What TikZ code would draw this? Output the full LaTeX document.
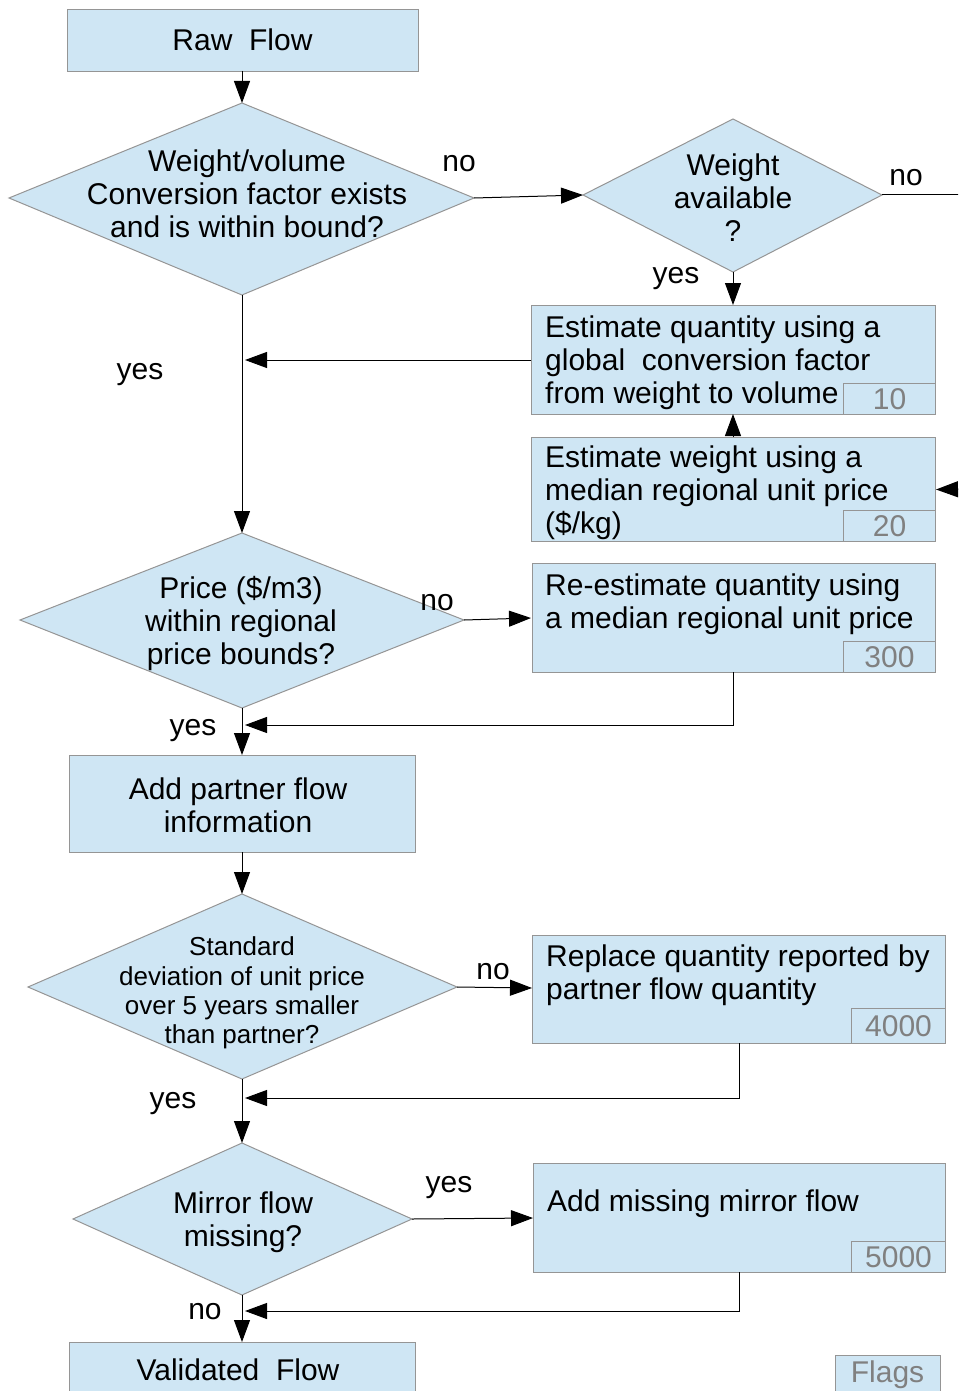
\documentclass[tikz,border=0pt]{standalone}
\usepackage{fontspec}
\setmainfont{Liberation Sans}
\usetikzlibrary{arrows.meta}
\definecolor{boxfill}{HTML}{CFE6F4}
\definecolor{boxline}{HTML}{959595}
\definecolor{flagtext}{HTML}{808080}
\begin{document}
\begin{tikzpicture}[x=1pt,y=-1pt,
 box/.style={draw=boxline, fill=boxfill, line width=1pt, inner sep=0pt, anchor=north west},
 flagbox/.style={draw=boxline, fill=boxfill, line width=1pt, inner sep=0pt, anchor=south east, text=flagtext, font=\fontsize{30}{33}\selectfont},
 dia/.style={draw=boxline, fill=boxfill, line width=1pt},
 txt/.style={inner sep=0pt, font=\fontsize{30}{33}\selectfont, text=black},
 small/.style={inner sep=0pt, font=\fontsize{26}{29.3}\selectfont, text=black},
 conn/.style={line width=1pt, draw=black},
 arr/.style={conn, -{Triangle[length=22pt,width=16pt]}},
]
\useasboundingbox (0,0) rectangle (958,1391);
\clip (0,0) rectangle (958,1391);
\fill[white] (0,0) rectangle (958,1391);

% Raw Flow
\node[box, minimum width=351pt, minimum height=62pt] (raw) at (67,9) {};
\node[txt] (rawt) at (242.5,40) {Raw\ \ Flow};

% Diamond 1
\draw[dia] (242,103) coordinate (d1n) -- (474,198) coordinate (d1e) -- (242,295) coordinate (d1s) -- (9,198) coordinate (d1w) -- cycle;
\node[txt, align=center] (d1t) at (247,194) {Weight/volume\\Conversion factor exists\\and is within bound?};

% Diamond 2
\draw[dia] (733,119) coordinate (d2n) -- (882,195) coordinate (d2e) -- (733,272) coordinate (d2s) -- (583,195) coordinate (d2w) -- cycle;
\node[txt, align=center] (d2t) at (733,198) {Weight\\available\\?};

% Box 10
\node[box, minimum width=404pt, minimum height=109pt] (b10) at (531,305) {};
\node[txt, align=left, anchor=west] (b10t) at (545,363) {Estimate quantity using a\\global\ \ conversion factor\\from weight to volume};
\node[flagbox, minimum width=92pt, minimum height=31pt] (f10) at (b10.south east) {10};

% Box 20
\node[box, minimum width=404pt, minimum height=104pt] (b20) at (531,437) {};
\node[txt, align=left, anchor=west] (b20t) at (545,493) {Estimate weight using a\\median regional unit price\\(\$/kg)};
\node[flagbox, minimum width=92pt, minimum height=31pt] (f20) at (b20.south east) {20};

% Diamond 3
\draw[dia] (242,533) coordinate (d3n) -- (464,620) coordinate (d3e) -- (242,708) coordinate (d3s) -- (20,620) coordinate (d3w) -- cycle;
\node[txt, align=center] (d3t) at (241,624) {Price (\$/m3)\\within regional\\price bounds?};

% Box 300
\node[box, minimum width=403pt, minimum height=109pt] (b300) at (532,563) {};
\node[txt, align=left, anchor=west] (b300t) at (545,604.5) {Re-estimate quantity using\\a median regional unit price};
\node[flagbox, minimum width=92pt, minimum height=31pt] (f300) at (b300.south east) {300};

% Add partner
\node[box, minimum width=346pt, minimum height=97pt] (part) at (69,755) {};
\node[txt, align=center] (partt) at (238,805.5) {Add partner flow\\information};

% Diamond 4
\draw[dia] (242,894) coordinate (d4n) -- (457,987) coordinate (d4e) -- (242,1079) coordinate (d4s) -- (28,987) coordinate (d4w) -- cycle;
\node[small, align=center] (d4t) at (242,993) {Standard\\deviation of unit price\\over 5 years smaller\\than partner?};

% Box 4000
\node[box, minimum width=413pt, minimum height=108pt] (b4000) at (532,935) {};
\node[txt, align=left, anchor=west] (b4000t) at (546,975.5) {Replace quantity reported by\\partner flow quantity};
\node[flagbox, minimum width=94pt, minimum height=35pt] (f4000) at (b4000.south east) {4000};

% Diamond 5
\draw[dia] (242,1143) coordinate (d5n) -- (412,1219) coordinate (d5e) -- (242,1295) coordinate (d5s) -- (73,1219) coordinate (d5w) -- cycle;
\node[txt, align=center] (d5t) at (243,1222) {Mirror flow\\missing?};

% Box 5000
\node[box, minimum width=412pt, minimum height=109pt] (b5000) at (533,1163) {};
\node[txt, anchor=west] (b5000t) at (547,1204) {Add missing mirror flow};
\node[flagbox, minimum width=94pt, minimum height=31pt] (f5000) at (b5000.south east) {5000};

% Validated
\node[box, minimum width=346pt, minimum height=70pt] (val) at (69,1342) {};
\node[txt] (valt) at (238,1370) {Validated\ \ Flow};

% Flags legend
\node[box, minimum width=105pt, minimum height=36pt] (flags) at (835,1355) {};
\node[txt, text=flagtext] (flagst) at (887.5,1375) {Flags};

% Coordinates
\coordinate (rawb) at (242,71);
\coordinate (j1) at (245,360);
\coordinate (offR) at (975,195);
\coordinate (inR) at (980,489);
\coordinate (b10b) at (733,414);
\coordinate (b20n) at (733,437);
\coordinate (b10n) at (733,305);
\coordinate (c300a) at (733,672);
\coordinate (c300b) at (733,725);
\coordinate (j2) at (245,725);
\coordinate (partn) at (242,755);
\coordinate (parts) at (242,852);
\coordinate (c4a) at (739,1043);
\coordinate (c4b) at (739,1098);
\coordinate (j3) at (245,1098);
\coordinate (c5a) at (739,1272);
\coordinate (c5b) at (739,1311);
\coordinate (j4) at (245,1311);
\coordinate (valn) at (242,1342);
\coordinate (b10w) at (531,360);
\coordinate (b300w) at (531,618);
\coordinate (b4000w) at (532,988);
\coordinate (b5000w) at (533,1218);

% Connectors
\draw[arr] (rawb) -- (d1n);
\draw[arr] (d1e) -- (d2w);
\draw[conn] (d2e) -- (offR);
\draw[arr] (d2s) -- (b10n);
\draw[arr] (b10w) -- (j1);
\draw[arr] (d1s) -- (d3n);
\draw[arr] (b20n) -- (b10b);
\draw[arr] (inR) -- (b20.east);
\draw[arr] (d3e) -- (b300w);
\draw[arr] (c300a) -- (c300b) -- (j2);
\draw[arr] (d3s) -- (partn);
\draw[arr] (parts) -- (d4n);
\draw[arr] (d4e) -- (b4000w);
\draw[arr] (c4a) -- (c4b) -- (j3);
\draw[arr] (d4s) -- (d5n);
\draw[arr] (d5e) -- (b5000w);
\draw[arr] (c5a) -- (c5b) -- (j4);
\draw[arr] (d5s) -- (valn);

% Labels
\node[txt] (l1) at (459,164) {no};
\node[txt] (l2) at (906,178) {no};
\node[txt] (l3) at (676,279) {yes};
\node[txt] (l4) at (140,375) {yes};
\node[txt] (l5) at (437,603) {no};
\node[txt] (l6) at (193,731) {yes};
\node[txt] (l7) at (493,972) {no};
\node[txt] (l8) at (173,1104) {yes};
\node[txt] (l9) at (449,1188) {yes};
\node[txt] (l10) at (205,1312) {no};
\end{tikzpicture}
\end{document}
